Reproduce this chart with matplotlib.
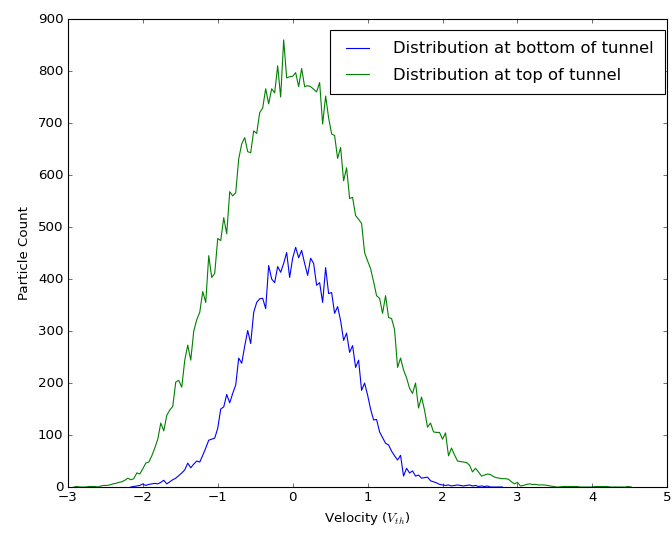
import numpy as np
import matplotlib
matplotlib.use("Agg")
import matplotlib.pyplot as plt

# bin centres (width 0.04) and counts
top_start = -2.92
top_counts = [
    0, 1, 0, 0, 0, 1, 1, 1, 0, 2,
    3, 3, 4, 6, 7, 9, 10, 13, 17, 14,
    16, 27, 25, 35, 46, 48, 60, 75, 92, 123,
    108, 138, 148, 155, 202, 205, 192, 244, 273, 244,
    300, 322, 336, 376, 355, 445, 403, 411, 478, 474,
    518, 487, 568, 560, 566, 631, 660, 672, 645, 643,
    685, 680, 720, 729, 766, 737, 766, 758, 810, 750,
    860, 787, 789, 790, 797, 770, 805, 770, 772, 770,
    765, 760, 778, 698, 752, 710, 679, 676, 632, 653,
    589, 614, 555, 557, 522, 515, 507, 451, 435, 420,
    395, 368, 363, 334, 368, 326, 324, 303, 230, 248,
    225, 210, 190, 180, 200, 152, 173, 148, 115, 123,
    106, 105, 105, 92, 104, 60, 75, 62, 50, 49,
    48, 47, 42, 29, 36, 29, 21, 23, 25, 24,
    20, 18, 17, 16, 16, 15, 10, 6, 9, 2,
    3, 5, 6, 5, 5, 4, 4, 4, 3, 2,
    1, 0, 0, 1, 1, 1, 1, 1, 1, 0,
    0, 0, 0, 0, 1, 1, 1, 1, 1, 0,
    0, 0, 0, 0, 0, 1, 0,
]

bottom_start = -2.16
bottom_counts = [
    0, 1, 2, 3, 6, 3, 5, 6, 7, 6,
    9, 13, 6, 10, 14, 17, 22, 27, 33, 46,
    37, 44, 50, 48, 61, 75, 90, 92, 94, 113,
    150, 154, 178, 162, 180, 196, 248, 238, 271, 301,
    276, 336, 355, 362, 363, 343, 426, 400, 393, 424,
    413, 430, 451, 403, 440, 461, 441, 455, 430, 407,
    440, 430, 388, 393, 355, 422, 372, 374, 334, 347,
    320, 282, 296, 259, 272, 230, 244, 186, 200, 177,
    150, 129, 130, 106, 95, 84, 81, 69, 60, 52,
    61, 21, 36, 27, 31, 21, 23, 17, 18, 19,
    12, 10, 8, 5, 4, 3, 4, 2, 3, 4,
    3, 2, 3, 4, 2, 3, 1, 2, 1, 2,
    0, 0, 0, 0, 0,
]

bin_w = 0.04
top_x = top_start + bin_w * np.arange(len(top_counts))
bottom_x = bottom_start + bin_w * np.arange(len(bottom_counts))

plt.style.use("classic")
fig = plt.figure(figsize=(8.4, 6.7), dpi=80)
ax = fig.add_axes([0.101, 0.0914, 0.892, 0.873])

ax.plot(bottom_x, bottom_counts, "b-", label="Distribution at bottom of tunnel")
ax.plot(top_x, top_counts, "g-", label="Distribution at top of tunnel")

ax.set_xlim(-3, 5)
ax.set_ylim(0, 900)
ax.set_xlabel(r"Velocity ($V_{th}$)")
ax.set_ylabel("Particle Count", labelpad=6)
ax.legend(loc="upper right", bbox_to_anchor=(0.997, 0.977), borderaxespad=0,
          fontsize=14.7, borderpad=0.7, handlelength=2.0, handletextpad=1.2,
          labelspacing=0.7)

fig.savefig("out.png", dpi=80)
